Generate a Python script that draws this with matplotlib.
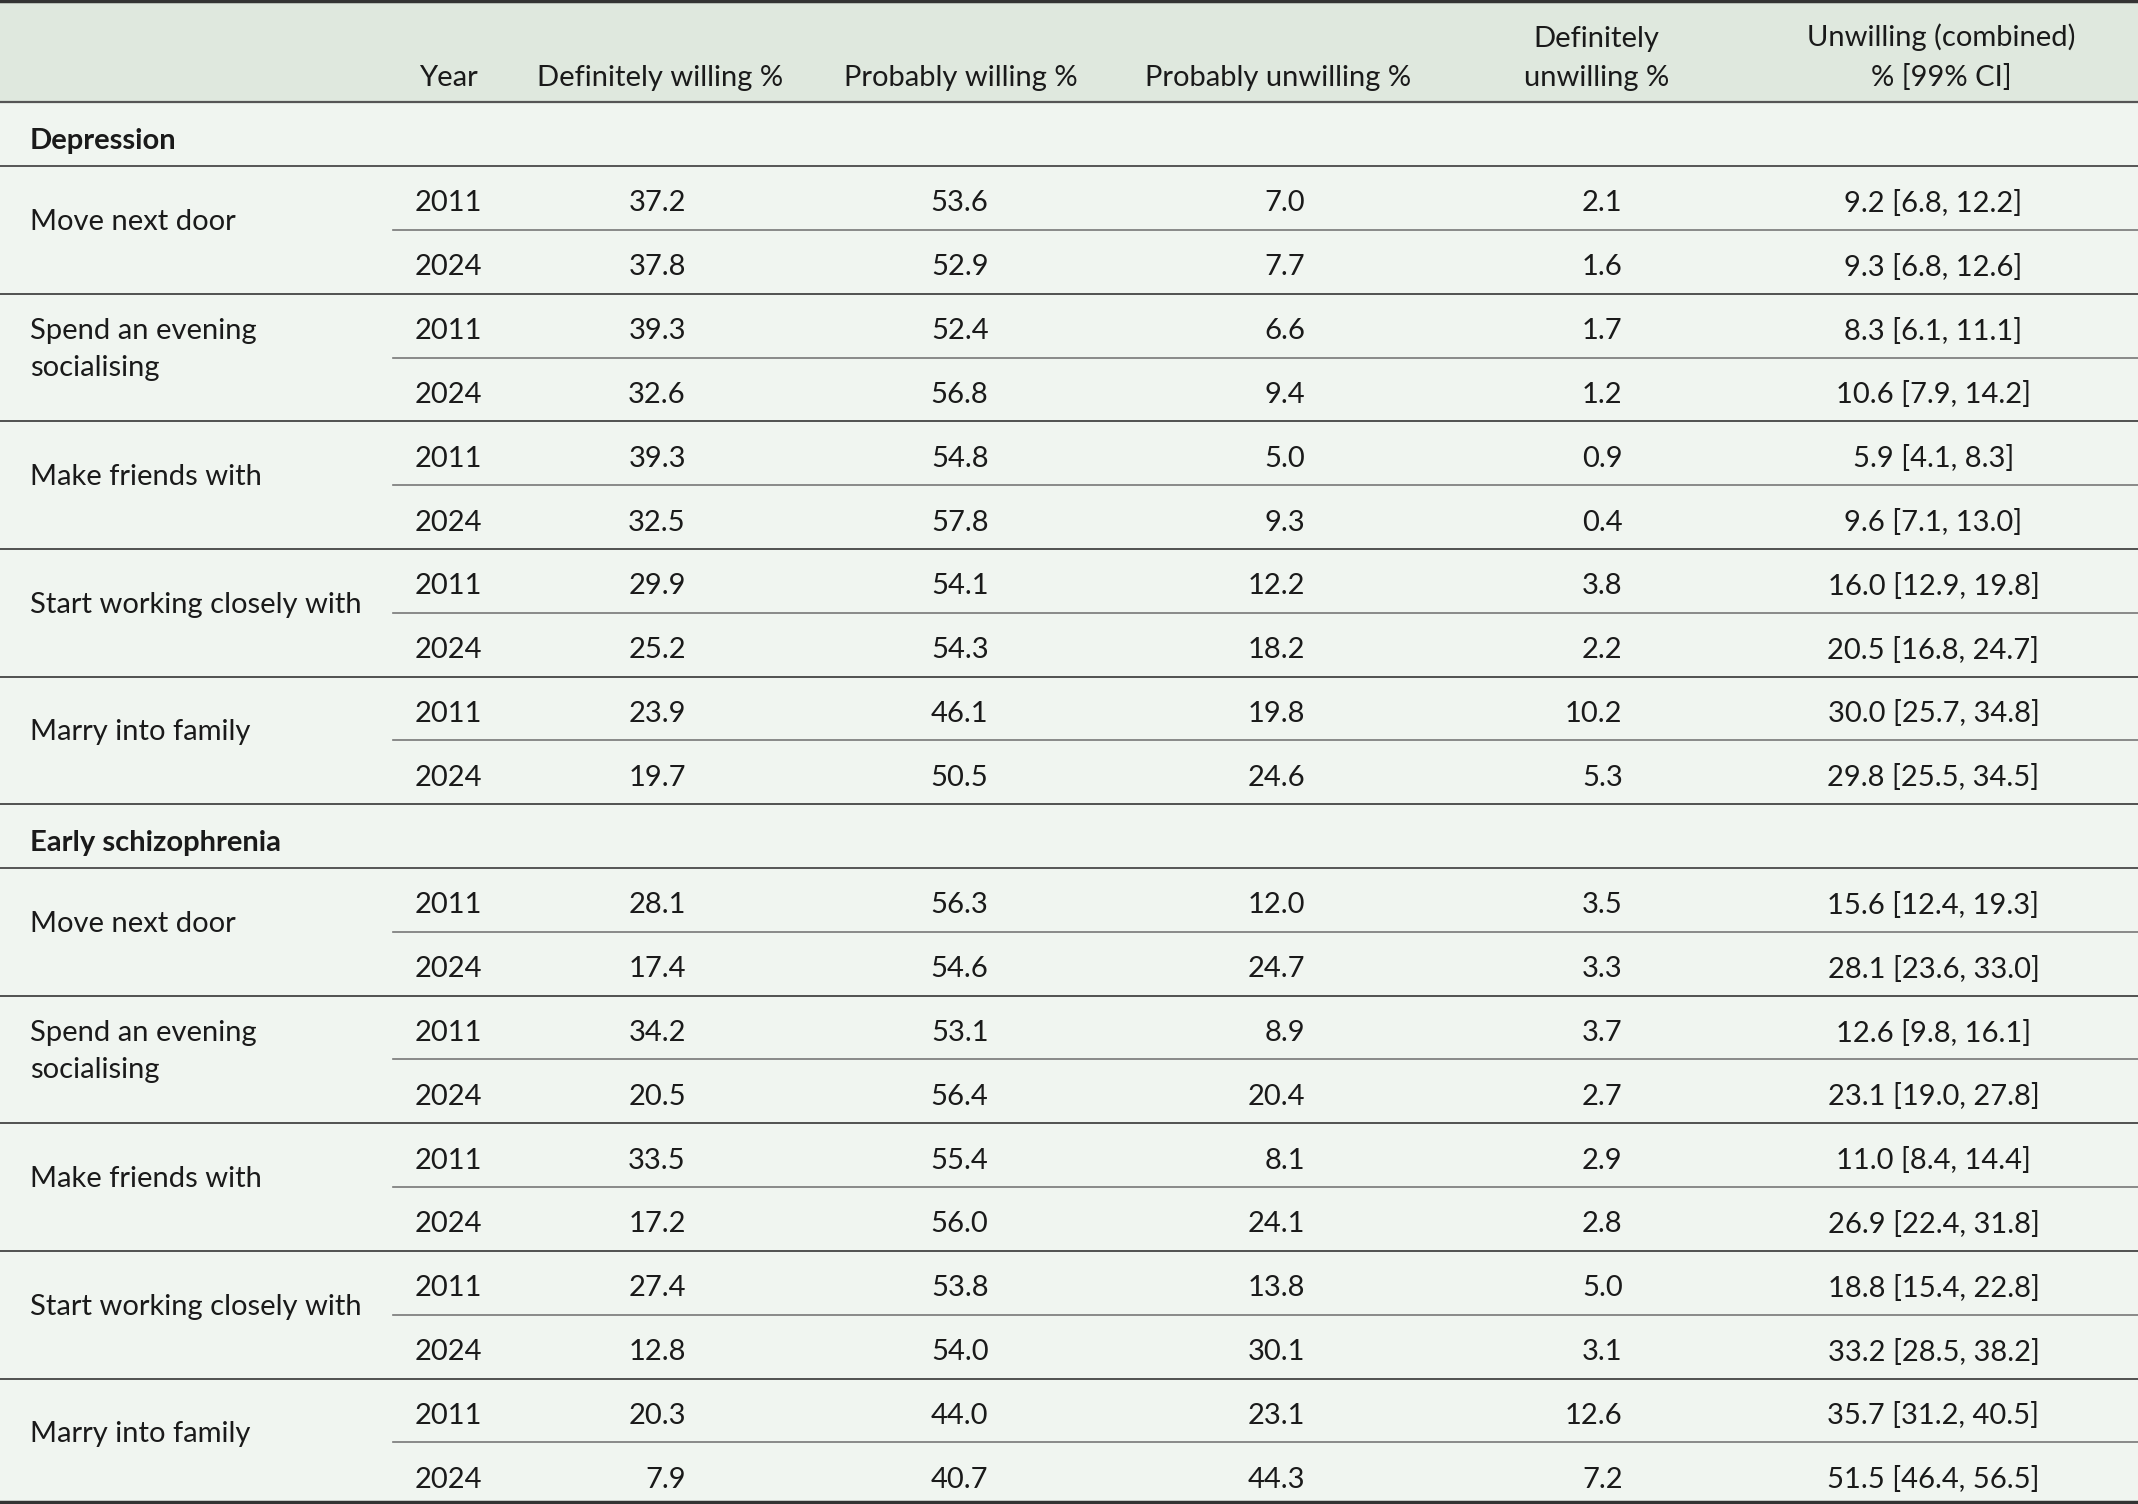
import matplotlib
matplotlib.use("Agg")
import matplotlib.pyplot as plt

plt.rcParams['font.family'] = ['Lato', 'DejaVu Sans']

# ---------------- data ----------------
sections = ["Depression", "Early schizophrenia"]
items = ["Move next door", "Spend an evening\nsocialising", "Make friends with",
         "Start working closely with", "Marry into family"]
years = ["2011", "2024"]

columns = ["Year", "Definitely willing %", "Probably willing %", "Probably unwilling %",
           "Definitely\nunwilling %", "Unwilling (combined)\n% [99% CI]"]

# rows: section 0 (Depression) then section 1 (Early schizophrenia); per item: 2011, 2024
def_willing = [37.2, 37.8, 39.3, 32.6, 39.3, 32.5, 29.9, 25.2, 23.9, 19.7,
               28.1, 17.4, 34.2, 20.5, 33.5, 17.2, 27.4, 12.8, 20.3, 7.9]
prob_willing = [53.6, 52.9, 52.4, 56.8, 54.8, 57.8, 54.1, 54.3, 46.1, 50.5,
                56.3, 54.6, 53.1, 56.4, 55.4, 56.0, 53.8, 54.0, 44.0, 40.7]
prob_unwilling = [7.0, 7.7, 6.6, 9.4, 5.0, 9.3, 12.2, 18.2, 19.8, 24.6,
                  12.0, 24.7, 8.9, 20.4, 8.1, 24.1, 13.8, 30.1, 23.1, 44.3]
def_unwilling = [2.1, 1.6, 1.7, 1.2, 0.9, 0.4, 3.8, 2.2, 10.2, 5.3,
                 3.5, 3.3, 3.7, 2.7, 2.9, 2.8, 5.0, 3.1, 12.6, 7.2]
unwilling_comb = [9.2, 9.3, 8.3, 10.6, 5.9, 9.6, 16.0, 20.5, 30.0, 29.8,
                  15.6, 28.1, 12.6, 23.1, 11.0, 26.9, 18.8, 33.2, 35.7, 51.5]
ci_low = [6.8, 6.8, 6.1, 7.9, 4.1, 7.1, 12.9, 16.8, 25.7, 25.5,
          12.4, 23.6, 9.8, 19.0, 8.4, 22.4, 15.4, 28.5, 31.2, 46.4]
ci_high = [12.2, 12.6, 11.1, 14.2, 8.3, 13.0, 19.8, 24.7, 34.8, 34.5,
           19.3, 33.0, 16.1, 27.8, 14.4, 31.8, 22.8, 38.2, 40.5, 56.5]

# ---------------- layout (reference units, 1568 wide) ----------------
W, H = 1568, 1103
header_bottom = 75
n_rows = 22
row_h = 46.8
bottom_y = 1101.5
FS = 21
text_col = "#1a1a1a"
header_bg = "#dfe8de"
body_bg = "#f0f5f0"

fig = plt.figure(figsize=(21.38, 15.04), dpi=100)
ax = fig.add_axes([0, 0, 1, 1])
ax.set_xlim(0, W)
ax.set_ylim(H, 0)
ax.axis("off")

ax.add_patch(plt.Rectangle((0, 0), W, header_bottom, color=header_bg, zorder=0))
ax.add_patch(plt.Rectangle((0, header_bottom), W, H - header_bottom, color=body_bg, zorder=0))

# header
hdr_x = [329, 484, 705, 937, 1171, 1424]
for x, lab in zip(hdr_x, columns):
    ax.text(x, 63, lab, ha="center", va="baseline", fontsize=FS, color=text_col,
            linespacing=1.6)

# column anchors for values
val_right = [503, 725, 957, 1190]
year_x = 329
ci_x = 1418
label_x = 22
sub_line_x = 288

ax.plot([0, W], [1, 1], color="#333333", lw=2.5, zorder=3)
ax.plot([0, W], [header_bottom, header_bottom], color="#555555", lw=1.6, zorder=3)

r = 0
idx = 0
for s, sec in enumerate(sections):
    y0 = header_bottom + r * row_h
    ax.text(label_x, y0 + row_h / 2 + 5, sec, ha="left", va="center", fontsize=FS,
            fontweight="bold", color=text_col)
    r += 1
    ax.plot([0, W], [header_bottom + r * row_h] * 2, color="#555555", lw=1.4, zorder=3)
    for item in items:
        g0 = header_bottom + r * row_h
        ax.text(label_x, g0 + row_h - 6, item, ha="left", va="center", fontsize=FS,
                color=text_col, linespacing=1.5)
        for k, yr in enumerate(years):
            yc = header_bottom + (r + k) * row_h + row_h / 2 + 4
            ax.text(year_x, yc, yr, ha="center", va="center", fontsize=FS, color=text_col)
            vals = [def_willing[idx], prob_willing[idx], prob_unwilling[idx], def_unwilling[idx]]
            for xr, v in zip(val_right, vals):
                ax.text(xr, yc, f"{v:.1f}", ha="right", va="center", fontsize=FS, color=text_col)
            ax.text(ci_x, yc, f"{unwilling_comb[idx]:.1f} [{ci_low[idx]:.1f}, {ci_high[idx]:.1f}]",
                    ha="center", va="center", fontsize=FS, color=text_col)
            idx += 1
        ax.plot([sub_line_x, W], [g0 + row_h] * 2, color="#777777", lw=1.2, zorder=3)
        r += 2
        if r < n_rows:
            ax.plot([0, W], [header_bottom + r * row_h] * 2, color="#444444", lw=1.3, zorder=3)

ax.plot([0, W], [bottom_y, bottom_y], color="#333333", lw=2.5, zorder=3)

fig.savefig("out.png", dpi=100)
